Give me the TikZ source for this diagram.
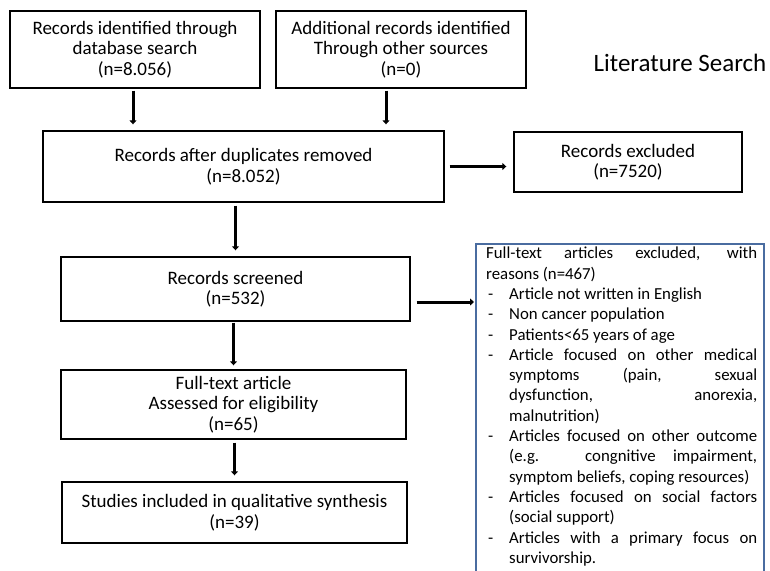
\documentclass[tikz,border=0pt]{standalone}
\usepackage{fontspec}
\setmainfont{Carlito}
\usetikzlibrary{positioning, arrows.meta}
\definecolor{exclblue}{RGB}{74,108,160}
\tikzset{
  flowbox/.style={draw=black, line width=1.4pt, rectangle, align=center, inner sep=2pt,
    font=\fontsize{19}{20.5}\selectfont},
  flowarrow/.style={line width=3pt, -{Triangle[width=7pt,length=4pt]}}
}
\newcommand{\exclitem}[1]{\par\noindent\hangindent=23pt\hangafter=1\makebox[23pt][l]{\hspace{2pt}-}#1\par}

\begin{document}
\begin{tikzpicture}[x=1pt, y=-1pt]
\clip (0,0) rectangle (770,570);
\fill[white] (0,0) rectangle (770,570);
\node[flowbox, minimum width=250pt, minimum height=77pt] at (135,49.5) (ident) {Records identified through\\database search\\(n=8.056)};
\node[flowbox, minimum width=250pt, minimum height=77pt] at (401,49.5) (addit) {Additional records identified\\Through other sources\\(n=0)};
\node[font=\fontsize{25}{28}\selectfont] at (680,63) (title) {Literature Search};
\node[flowbox, minimum width=401pt, minimum height=71pt] at (243.5,166.5) (dupl) {Records after duplicates removed\\(n=8.052)};
\node[flowbox, minimum width=228pt, minimum height=60pt] at (628,162) (excl) {Records excluded\\(n=7520)};
\node[flowbox, minimum width=349pt, minimum height=64pt] at (235.5,289) (screen) {Records screened\\(n=532)};
\node[flowbox, minimum width=345pt, minimum height=69pt] at (233.5,404.5) (full) {Full-text article\\Assessed for eligibility\\(n=65)};
\node[flowbox, minimum width=345pt, minimum height=61pt] at (234.5,512.5) (incl) {Studies included in qualitative synthesis\\(n=39)};
% exclusion reasons, cut off at the bottom
\draw[exclblue, line width=1.4pt] (476,244) rectangle (764,600);
\node[anchor=north west, text width=271pt, align=justify, inner sep=0pt,
  font=\fontsize{16.8}{20.3}\selectfont] at (486,247) (reasons) {%
  \hyphenpenalty=10000\exhyphenpenalty=10000\tolerance=10000\hfuzz=3pt
  Full-text articles excluded, with\linebreak reasons (n=467)
  \exclitem{Article not written in English}
  \exclitem{Non cancer population}
  \exclitem{Patients<65 years of age}
  \exclitem{Article focused on other medical\linebreak symptoms (pain, sexual\linebreak dysfunction, anorexia,\linebreak malnutrition)}
  \exclitem{Articles focused on other outcome\linebreak (e.g. congnitive impairment,\linebreak symptom beliefs, coping resources)}
  \exclitem{Articles focused on social factors\linebreak (social support)}
  \exclitem{Articles with a primary focus on\linebreak survivorship.}};
\coordinate (reasonsin) at (474,302);
% arrows
\draw[flowarrow, shorten <=2pt, shorten >=6pt] ([xshift=-2pt]ident.south) -- ([xshift=-2pt]ident.south |- dupl.north);
\draw[flowarrow, shorten <=2pt, shorten >=6pt] ([xshift=-15pt]addit.south) -- ([xshift=-15pt]addit.south |- dupl.north);
\draw[flowarrow, shorten <=5pt, shorten >=7pt] (dupl.east) -- (dupl.east -| excl.west);
\draw[flowarrow, shorten <=3pt, shorten >=6pt] (dupl.south -| screen.north) -- (screen.north);
\draw[flowarrow, shorten <=6pt] (screen.east |- reasonsin) -- (reasonsin);
\draw[flowarrow, shorten <=1pt, shorten >=4pt] (screen.south -| full.north) -- (full.north);
\draw[flowarrow, shorten <=3pt, shorten >=6pt] (full.south -| incl.north) -- (incl.north);
\end{tikzpicture}
\end{document}
